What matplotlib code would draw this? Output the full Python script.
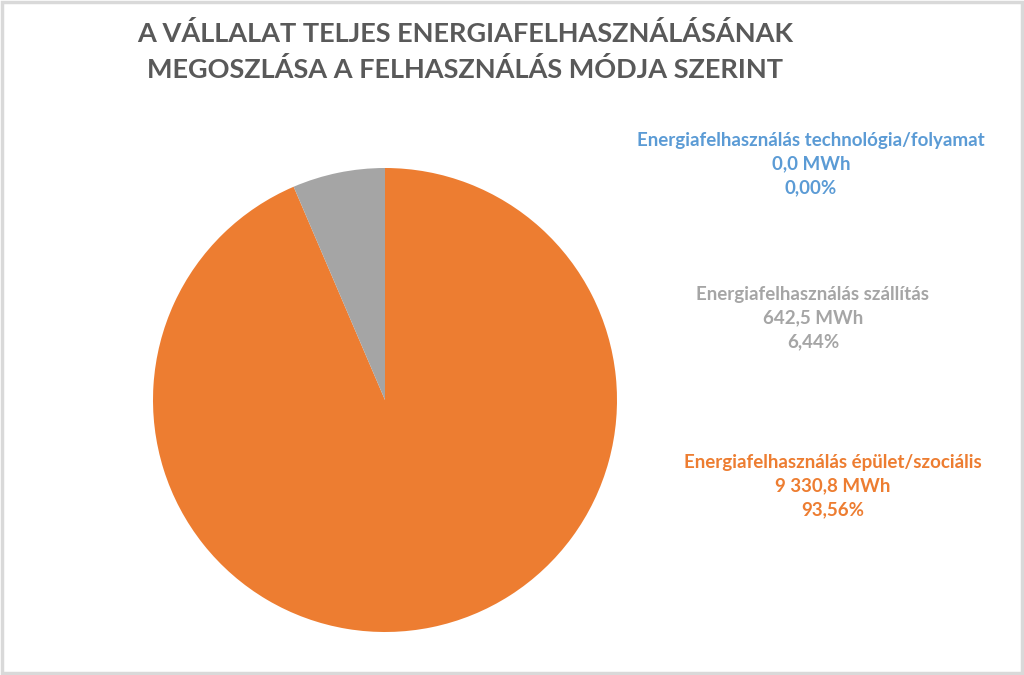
import matplotlib.pyplot as plt
from matplotlib.patches import Rectangle

# Data (order as drawn clockwise from 12 o'clock)
categories = ['Energiafelhasználás épület/szociális',
              'Energiafelhasználás szállítás',
              'Energiafelhasználás technológia/folyamat']
values_mwh = [9330.8, 642.5, 0.0]
colors = ['#ED7D31', '#A5A5A5', '#5B9BD5']
label_pos = [(833, 486), (813, 318), (811, 164)]  # pixel centre of the label block

title = 'A VÁLLALAT TELJES ENERGIAFELHASZNÁLÁSÁNAK\nMEGOSZLÁSA A FELHASZNÁLÁS MÓDJA SZERINT'

plt.rcParams['font.family'] = ['Lato', 'DejaVu Sans']

W, H = 1024, 675
fig = plt.figure(figsize=(W / 100, H / 100), dpi=100)
fig.patch.set_facecolor('white')

# light grey frame around the chart area
fig.add_artist(Rectangle((0.002, 0.003), 0.996, 0.994, transform=fig.transFigure,
                         fill=False, edgecolor='#D9D9D9', linewidth=2.5))

# Pie axes: centre (385, 400) px, radius 232 px
cx, cy, r = 385, 400, 232
ax = fig.add_axes([(cx - r) / W, (H - cy - r) / H, 2 * r / W, 2 * r / H])
ax.pie(values_mwh, colors=colors, startangle=90, counterclock=False,
       wedgeprops=dict(linewidth=0))
ax.set_xlim(-1, 1)
ax.set_ylim(-1, 1)
ax.set_aspect('equal')
ax.axis('off')

total = sum(values_mwh)


def hu_num(v, dec):
    s = f'{v:,.{dec}f}'
    return s.replace(',', ' ').replace('.', ',')


for cat, v, col, (px, py) in zip(categories, values_mwh, colors, label_pos):
    pct = hu_num(v / total * 100, 2) + '%'
    txt = f'{cat}\n{hu_num(v, 1)} MWh\n{pct}'
    fig.text(px / W, 1 - py / H, txt, ha='center', va='center', color=col,
             fontsize=13.5, fontweight='bold', linespacing=1.45)

fig.text(465 / W, 1 - 21 / H, title, ha='center', va='top', color='#595959',
         fontsize=19.5, fontweight='bold', linespacing=1.5)

plt.savefig('out.png', dpi=100)
